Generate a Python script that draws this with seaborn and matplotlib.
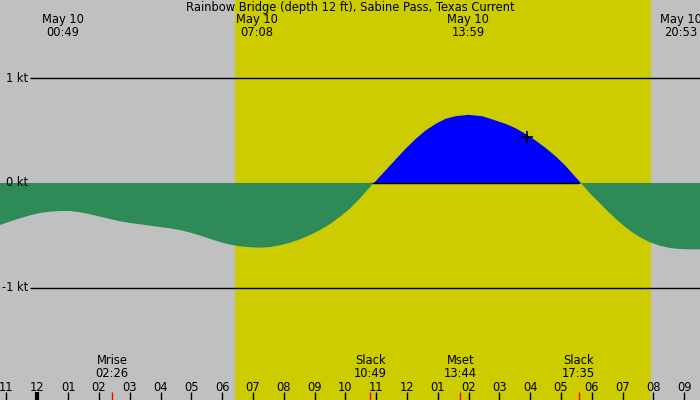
import numpy as np
import matplotlib
matplotlib.use("Agg")
import matplotlib.pyplot as plt
import matplotlib.transforms as mtransforms
import seaborn as sns

# ---- data (hours after midnight, May 10) ----
hours = [-1.21, -0.89, -0.56, -0.24, 0.09, 0.41, 0.74, 1.06, 1.39, 1.71,
         2.04, 2.36, 2.69, 3.01, 3.33, 3.66, 3.98, 4.31, 4.63, 4.96,
         5.28, 5.61, 5.93, 6.26, 6.58, 6.91, 7.23, 7.56, 7.88, 8.21,
         8.53, 8.86, 9.18, 9.51, 9.83, 10.16, 10.48, 10.81, 10.90, 11.29,
         11.62, 11.94, 12.27, 12.59, 12.92, 13.24, 13.56, 13.98, 14.43,
         14.86, 15.19, 15.51, 15.83, 16.16, 16.48, 16.81, 17.13, 17.46,
         17.65, 17.94, 18.27, 18.59, 18.92, 19.24, 19.57, 19.89, 20.21,
         20.54, 20.86, 21.19, 21.52]
speed = [-0.400, -0.368, -0.336, -0.308, -0.286, -0.273, -0.267, -0.267,
         -0.279, -0.298, -0.321, -0.343, -0.365, -0.381, -0.393, -0.407,
         -0.419, -0.432, -0.448, -0.472, -0.500, -0.532, -0.563, -0.587,
         -0.603, -0.612, -0.616, -0.610, -0.593, -0.569, -0.536, -0.495,
         -0.448, -0.390, -0.321, -0.241, -0.145, -0.035, 0.0, 0.124,
         0.229, 0.330, 0.425, 0.505, 0.568, 0.616, 0.641, 0.654, 0.641,
         0.600, 0.568, 0.527, 0.473, 0.410, 0.340, 0.260, 0.170, 0.060,
         0.0, -0.098, -0.194, -0.289, -0.378, -0.454, -0.517, -0.565,
         -0.597, -0.619, -0.629, -0.632, -0.632]

hour_ticks = list(range(-1, 22))
hour_labels = ["11", "12", "01", "02", "03", "04", "05", "06", "07", "08",
               "09", "10", "11", "12", "01", "02", "03", "04", "05", "06",
               "07", "08", "09"]

extreme_times = [0.817, 7.133, 13.983, 20.883]
extreme_labels = ["May 10\n00:49", "May 10\n07:08", "May 10\n13:59",
                  "May 10\n20:53"]

event_times = [2.433, 10.817, 13.733, 17.583]
event_labels = ["Mrise\n02:26", "Slack\n10:49", "Mset\n13:44",
                "Slack\n17:35"]

level_values = [1, -1]
level_labels = {1: "1 kt", 0: "0 kt", -1: "-1 kt"}

sunrise, sunset = 6.43, 19.93
now_time, now_speed = 15.89, 0.44

title = "Rainbow Bridge (depth 12 ft), Sabine Pass, Texas Current"

# ---- style ----
sns.set_theme(style="white")
plt.rcParams['font.family'] = ['DejaVu Sans']

GRAY = "#c0c0c0"
YELLOW = "#cccc00"
GREEN = "#2e8b57"
BLUE = "#0000ff"
FS = 8.3

fig = plt.figure(figsize=(7, 4), dpi=100)
ax = fig.add_axes([0, 0, 1, 1])
ax.set_facecolor(GRAY)
for s in ax.spines.values():
    s.set_visible(False)

ax.set_xlim(-1.211, 21.516)
ax.set_ylim(-2.067, 1.743)
ax.set_yticks([])

# daylight
ax.axvspan(sunrise, sunset, color=YELLOW, lw=0, zorder=0)

hrs = np.array(hours)
spd = np.array(speed)

ax.fill_between(hrs, spd, 0, where=spd >= 0, interpolate=True,
                color=BLUE, lw=0, zorder=1)
ax.hlines(level_values, -0.237, 21.6, color="black", lw=1, zorder=1.5)
# zero line only shows along the flood part
ax.hlines([0], event_times[1], event_times[3], color="black", lw=1,
          zorder=1.5)
ax.fill_between(hrs, spd, 0, where=spd <= 0, interpolate=True,
                color=GREEN, lw=0, zorder=2)

# current time marker
sns.scatterplot(x=[now_time], y=[now_speed], marker="+", s=70,
                color="black", linewidth=1.2, ax=ax, zorder=5)

# level labels
for v, lab in level_labels.items():
    ax.text(0.04, v, lab, transform=ax.get_yaxis_transform(),
            ha="right", va="center", fontsize=FS, color="black", zorder=6)

# title and extremes
ax.text(0.5, 1 - 7 / 400, title, transform=ax.transAxes, ha="center",
        va="center", fontsize=FS, color="black", zorder=6)
trans = mtransforms.blended_transform_factory(ax.transData, ax.transAxes)
for t, lab in zip(extreme_times, extreme_labels):
    ax.text(t, 1 - 26 / 400, lab, transform=trans, ha="center",
            va="center", fontsize=FS, linespacing=0.95, color="black",
            zorder=6)

# hour ticks along the bottom, pointing in
ax.set_xticks(hour_ticks)
ax.set_xticklabels(hour_labels)
ax.tick_params(axis="x", which="major", direction="in", length=5.8,
               width=1, color="black", labelsize=FS, pad=-14,
               bottom=True, labelcolor="black")
ax.xaxis.get_major_ticks()[1].tick1line.set_markeredgewidth(3)

# moon / slack events as red minor ticks
ax.set_xticks(event_times, minor=True)
ax.set_xticklabels(event_labels, minor=True)
ax.tick_params(axis="x", which="minor", direction="in", length=5.8,
               width=1, color="red", labelsize=FS, pad=-33,
               bottom=True, labelcolor="black")
for tk in ax.xaxis.get_minor_ticks():
    tk.label1.set_linespacing(1.0)

fig.savefig("out.png", dpi=100)
